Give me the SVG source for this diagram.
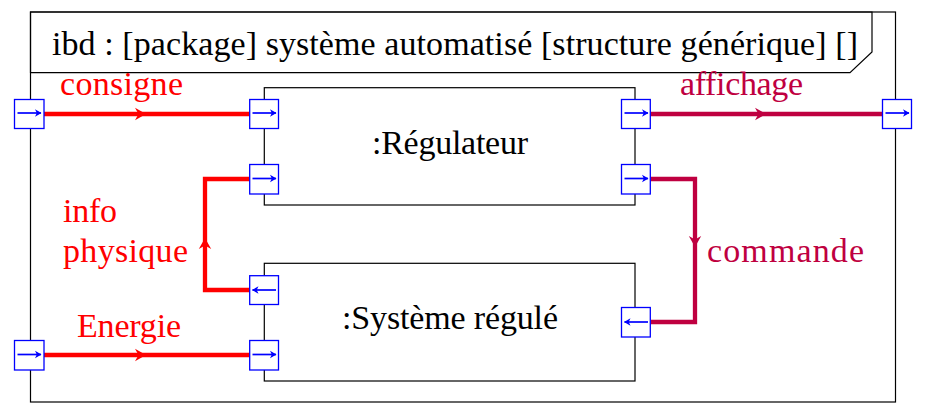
<svg xmlns="http://www.w3.org/2000/svg" xmlns:xlink="http://www.w3.org/1999/xlink" width="932" height="416" viewBox="0 0 932 416">
<style>
text{font-family:"Liberation Serif","Times New Roman",serif;font-size:34px}
.blk{fill:#000}
.red{fill:#ff0000}
.pur{fill:#bf0040}
.line{fill:none;stroke:#000;stroke-width:1.2}
.box{fill:#fff;stroke:#000;stroke-width:1.2}
.port{fill:#fff;stroke:#0000ff;stroke-width:1.3}
.parr{stroke:#0000ff;stroke-width:1.7;fill:none;marker-end:url(#pa)}
.cr{fill:none;stroke:#ff0000;stroke-width:4.3}
.cp{fill:none;stroke:#bf0040;stroke-width:4.3}
</style>
<defs>
<marker id="pa" viewBox="-7 -5 8 10" markerUnits="userSpaceOnUse" markerWidth="8" markerHeight="10" refX="0" refY="0" orient="auto">
<path d="M0.5,0 L-6,-3.8 L-4.2,0 L-6,3.8 Z" fill="#0000ff"/>
</marker>
<path id="ah" d="M0,0 L-11,-6.2 L-7.5,0 L-11,6.2 Z"/>
</defs>
<g id="frame">
<rect class="line" x="30.5" y="12" width="865" height="390"/>
<path class="line" d="M30.5,12 H872 V52 L850,72.7 H30.5 Z"/>
<text class="blk" x="52" y="55" textLength="806">ibd : [package] système automatisé [structure générique] []</text>
</g>
<g id="connectors">
<path class="cr" d="M44,114 H250"/>
<use xlink:href="#ah" href="#ah" transform="translate(146,114)" fill="#ff0000"/>
<text class="red" x="60" y="94.5" textLength="123">consigne</text>
<path class="cp" d="M650.5,114 H883"/>
<use xlink:href="#ah" href="#ah" transform="translate(766,114)" fill="#bf0040"/>
<text class="pur" x="680" y="95" textLength="123">affichage</text>
<path class="cr" d="M249.5,290 H205 V179 H249.5"/>
<use xlink:href="#ah" href="#ah" transform="translate(205,238) rotate(-90)" fill="#ff0000"/>
<text class="red" x="63" y="222" textLength="54">info</text>
<text class="red" x="63" y="262" textLength="125">physique</text>
<path class="cr" d="M44,355 H250"/>
<use xlink:href="#ah" href="#ah" transform="translate(146,355)" fill="#ff0000"/>
<text class="red" x="77" y="337" textLength="104">Energie</text>
<path class="cp" d="M650.5,179 H695 V322 H650.5"/>
<use xlink:href="#ah" href="#ah" transform="translate(695,247) rotate(90)" fill="#bf0040"/>
<text class="pur" x="707" y="262" textLength="157">commande</text>
</g>
<g id="port-consigne-in">
<rect class="port" x="14.5" y="99.5" width="29.5" height="29"/>
<line class="parr" x1="17.5" y1="113" x2="41" y2="113"/>
</g>
<g id="port-energie-in">
<rect class="port" x="14.5" y="340.5" width="29.5" height="29.5"/>
<line class="parr" x1="17.5" y1="354.5" x2="41" y2="354.5"/>
</g>
<g id="port-affichage-out">
<rect class="port" x="882.5" y="99.5" width="29" height="29"/>
<line class="parr" x1="885.5" y1="113" x2="909" y2="113"/>
</g>
<g id="regulateur">
<rect class="box" x="264.3" y="87.7" width="370.7" height="117.3"/>
<text class="blk" x="372" y="153.5" textLength="156">:Régulateur</text>
<rect class="port" x="249.7" y="99.5" width="28.8" height="29"/>
<line class="parr" x1="252.5" y1="113" x2="276" y2="113"/>
<rect class="port" x="249.7" y="164.5" width="28.8" height="29.5"/>
<line class="parr" x1="252.5" y1="178.5" x2="276" y2="178.5"/>
<rect class="port" x="621.5" y="99.5" width="28.8" height="29"/>
<line class="parr" x1="624.5" y1="113" x2="648" y2="113"/>
<rect class="port" x="621.5" y="164.5" width="28.8" height="29.5"/>
<line class="parr" x1="624.5" y1="178.5" x2="648" y2="178.5"/>
</g>
<g id="systeme-regule">
<rect class="box" x="264.3" y="263.3" width="370.7" height="117.7"/>
<text class="blk" x="342" y="328.5" textLength="216">:Système régulé</text>
<rect class="port" x="249.7" y="275.7" width="28.8" height="28.8"/>
<line class="parr" x1="276" y1="290" x2="252.5" y2="290"/>
<rect class="port" x="249.7" y="340.5" width="28.8" height="29.5"/>
<line class="parr" x1="252.5" y1="354.5" x2="276" y2="354.5"/>
<rect class="port" x="621.5" y="307.5" width="28.8" height="29.5"/>
<line class="parr" x1="648" y1="322" x2="624.5" y2="322"/>
</g>
</svg>
